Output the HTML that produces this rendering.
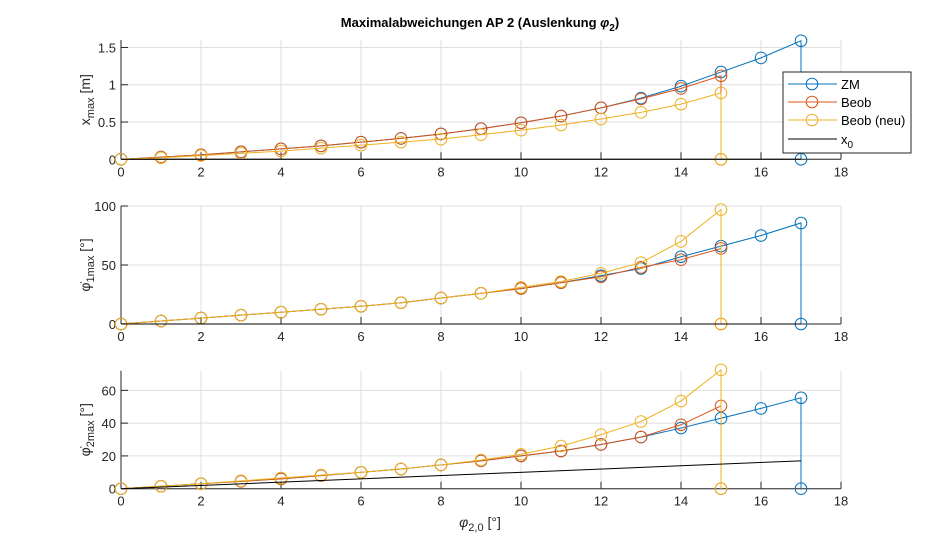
<!DOCTYPE html>
<html><head><meta charset="utf-8"><style>
body{margin:0;background:#fff}
svg{font-family:"Liberation Sans",Arial,sans-serif}
</style></head><body>
<svg id="chart" width="928" height="549" viewBox="0 0 928 549" xmlns="http://www.w3.org/2000/svg"></svg>
<script>
const xZM = [0,1,2,3,4,5,6,7,8,9,10,11,12,13,14,15,16,17];
const xBeob = [0,1,2,3,4,5,6,7,8,9,10,11,12,13,14,15];
const xTicks = [0,2,4,6,8,10,12,14,16,18];
// subplot 1: x_max
const zm1 = [0,0.03,0.06,0.1,0.14,0.18,0.23,0.28,0.34,0.41,0.49,0.58,0.69,0.82,0.98,1.17,1.36,1.59];
const beob1 = [0,0.03,0.06,0.1,0.14,0.18,0.23,0.28,0.34,0.41,0.49,0.58,0.69,0.81,0.95,1.12];
const neu1 = [0,0.02,0.05,0.08,0.11,0.15,0.19,0.23,0.27,0.33,0.39,0.46,0.54,0.63,0.74,0.89];
const x01 = [0,0];
const yTicks1 = [0,0.5,1,1.5];
// subplot 2: phi1 max
const zm2 = [0,2.5,5,7.5,10,12.5,15,18,22,26,30,35,41,47,57,66,75,85.6];
const beob2 = [0,2.5,5,7.5,10,12.5,15,18,22,26,30,35,40,48,54.5,64];
const neu2 = [0,2.5,5,7.5,10,12.5,15,18,22,26,31,36,43,52,70,97];
const x02 = [0,0];
const yTicks2 = [0,50,100];
// subplot 3: phi2 max
const zm3 = [0,1.5,3,4.5,6,8,10,12,14.5,17,20,23,27,31.5,37,43,49,55.5];
const beob3 = [0,1.5,3,4.5,6,8,10,12,14.5,17,20,23,27,31.5,39,50.5];
const neu3 = [0,1.5,3,4.8,6.5,8.3,10,12,14.5,17.5,21,26,33,41,53.5,72.5];
const x03 = [0,17];
const yTicks3 = [0,20,40,60];

const NS="http://www.w3.org/2000/svg";
const svg=document.getElementById('chart');
function el(t,a,p){const e=document.createElementNS(NS,t);for(const k in a)e.setAttribute(k,a[k]);(p||svg).appendChild(e);return e;}
const X0=121,X1=841;
const sx=v=>X0+(v-0)/18*(X1-X0);
const C={zm:'#0072BD',beob:'#D95319',neu:'#EDB120'};

function subplot(name,top,bottom,ymax,yTicks,zm,beob,neu,x0,ylabel){
  const g=el('g',{});
  
  
  const sy=v=>bottom-v/ymax*(bottom-top);
  xTicks.forEach(t=>{
    el('line',{x1:sx(t),x2:sx(t),y1:top,y2:bottom,stroke:'#dfdfdf','stroke-width':1},g);
    el('line',{x1:sx(t),x2:sx(t),y1:bottom,y2:bottom-7,stroke:'#262626'},g);
    const tx=el('text',{x:sx(t),y:bottom+17,'text-anchor':'middle','font-size':13,fill:'#262626'},g);tx.textContent=t;
  });
  yTicks.forEach(t=>{
    el('line',{x1:X0,x2:X1,y1:sy(t),y2:sy(t),stroke:'#dfdfdf'},g);
    el('line',{x1:X0,x2:X0+7,y1:sy(t),y2:sy(t),stroke:'#262626'},g);
    const tx=el('text',{x:X0-5,y:sy(t)+5,'text-anchor':'end','font-size':13,fill:'#262626'},g);tx.textContent=t;
  });
  el('line',{x1:X0,x2:X0,y1:top,y2:bottom,stroke:'#262626'},g);
  el('line',{x1:X0,x2:X1,y1:bottom,y2:bottom,stroke:'#262626'},g);
  const ser=(xs,ys,col,nm,drop)=>{
    const pts=xs.map((x,i)=>[sx(x),sy(ys[i])]);
    if(drop) pts.push([sx(xs[xs.length-1]),sy(0)]);
    const pl=el('polyline',{points:pts.map(p=>p.join(',')).join(' '),fill:'none',stroke:col,'stroke-width':1},g);
    
    
    pts.forEach(p=>{
      const c=el('circle',{cx:p[0],cy:p[1],r:5.8,fill:'none',stroke:col,'stroke-width':1},g);
      
      
    });
  };
  ser(xZM,zm,C.zm,'zm',true);
  ser(xBeob,beob,C.beob,'beob',true);
  ser(xBeob,neu,C.neu,'beob-neu',true);
  const l=el('line',{x1:sx(0),x2:sx(17),y1:sy(x0[0]),y2:sy(x0[1]),stroke:'#000','stroke-width':1},g);
  
  
  const yl=el('text',{transform:`translate(90,${(top+bottom)/2}) rotate(-90)`,'text-anchor':'middle','font-size':14,fill:'#262626'},g);
  yl.innerHTML=ylabel;
  
  
}
subplot('subplot-xmax',40,159.3,1.6,yTicks1,zm1,beob1,neu1,x01,'x<tspan font-size="11" dy="4">max</tspan><tspan dy="-4"> [m]</tspan>');
subplot('subplot-phi1',206,324,100,yTicks2,zm2,beob2,neu2,x02,'φ̇<tspan font-size="11" dy="4">1max</tspan><tspan dy="-4"> [°]</tspan>');
subplot('subplot-phi2',370.7,488.7,72,yTicks3,zm3,beob3,neu3,x03,'φ̇<tspan font-size="11" dy="4">2max</tspan><tspan dy="-4"> [°]</tspan>');

const t=el('text',{x:480,y:27,'text-anchor':'middle','font-size':13,'font-weight':'bold',fill:'#000'});
t.innerHTML='Maximalabweichungen AP 2 (Auslenkung <tspan font-style="italic">φ</tspan><tspan font-size="10" dy="4">2</tspan><tspan dy="-4">)</tspan>';


const xl=el('text',{x:480,y:527,'text-anchor':'middle','font-size':14,fill:'#262626'});
xl.innerHTML='<tspan font-style="italic">φ</tspan><tspan font-size="11" dy="4">2,0</tspan><tspan dy="-4"> [°]</tspan>';



const lg=el('g',{});


el('rect',{x:783,y:72,width:128,height:81,fill:'#fff',stroke:'#262626'},lg);
[['ZM',C.zm,true,84],['Beob',C.beob,true,102],['Beob (neu)',C.neu,true,120],['x0','#000',false,139]].forEach(e=>{
  const eg=el('g',{},lg);
  
  
  el('line',{x1:788,x2:837,y1:e[3],y2:e[3],stroke:e[1]},eg);
  if(e[2]) el('circle',{cx:812,cy:e[3],r:5.8,fill:'none',stroke:e[1]},eg);
  const tx=el('text',{x:841,y:e[3]+5,'font-size':13,fill:'#000'},eg);
  tx.innerHTML=e[0]==='x0'?'x<tspan font-size="10" dy="4">0</tspan>':e[0];
});
</script>
</body></html>
